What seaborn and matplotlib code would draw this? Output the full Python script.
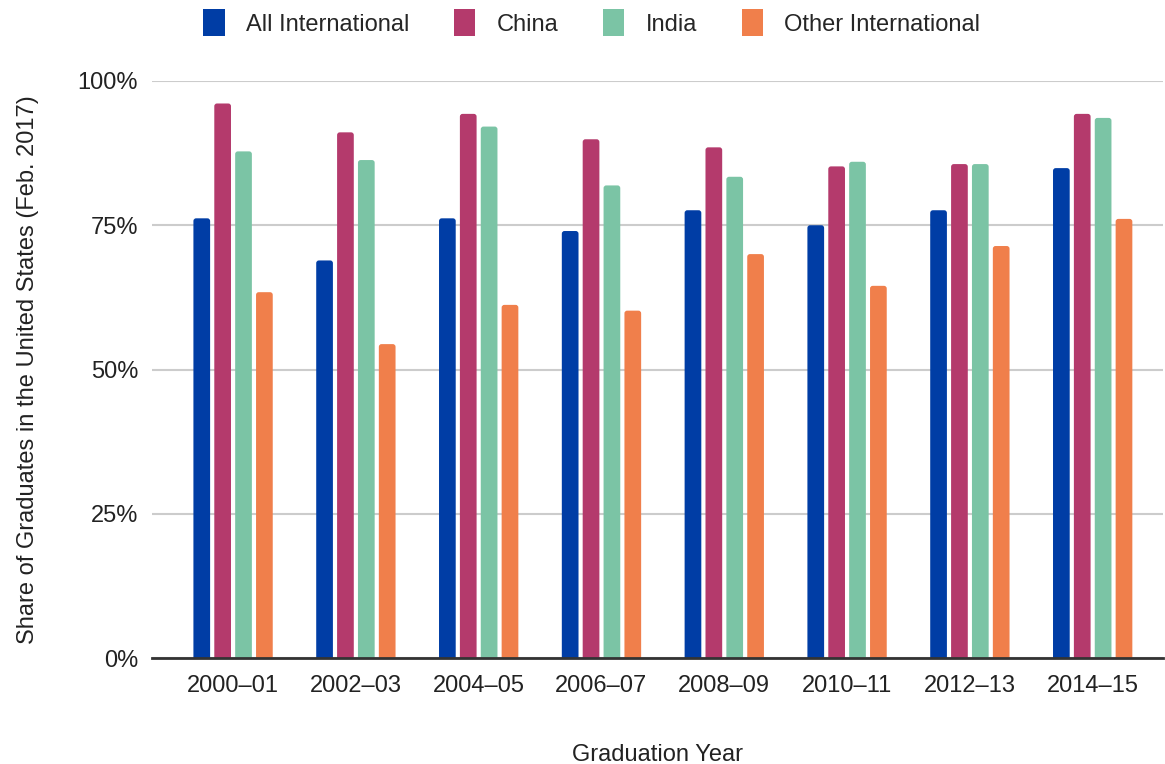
import pandas as pd
import matplotlib.pyplot as plt
import seaborn as sns
from matplotlib.patches import Patch, FancyBboxPatch
from matplotlib.ticker import PercentFormatter

years = ['2000–01', '2002–03', '2004–05', '2006–07',
         '2008–09', '2010–11', '2012–13', '2014–15']
series = ['All International', 'China', 'India', 'Other International']
all_intl = [76.2, 68.9, 76.2, 74.0, 77.6, 75.0, 77.6, 84.9]
china = [96.1, 91.1, 94.3, 89.9, 88.5, 85.2, 85.6, 94.3]
india = [87.8, 86.3, 92.1, 81.9, 83.4, 86.0, 85.6, 93.6]
other_intl = [63.4, 54.4, 61.2, 60.2, 70.0, 64.5, 71.4, 76.1]
colors = ['#003da5', '#b43a6c', '#7bc4a5', '#f07f4b']

if __name__ == '__main__':

    values = [all_intl, china, india, other_intl]
    df = pd.DataFrame({
        'year': years * len(series),
        'series': [s for s in series for _ in years],
        'share': [v for vals in values for v in vals],
    })

    sns.set_style('white')
    plt.rcParams['font.family'] = ['Liberation Sans', 'DejaVu Sans']

    fig = plt.figure(figsize=(11.65, 7.64), dpi=100)
    ax = fig.add_axes([0.1305, 0.1387, 0.8675, 0.7553])

    sns.barplot(data=df, x='year', y='share', hue='series', order=years,
                hue_order=series, palette=colors, width=0.68, gap=0.2,
                saturation=1, legend=False, ax=ax)

    ax.set_ylim(0, 100)
    ax.set_xlim(-0.66, 7.57)

    # round the bar tops a little (Google-chart look)
    for bar in list(ax.patches):
        x, w, h = bar.get_x(), bar.get_width(), bar.get_height()
        rounded = FancyBboxPatch((x, -3), w, h + 3,
                                 boxstyle='round,pad=0,rounding_size=0.022',
                                 mutation_aspect=21.3,
                                 facecolor=bar.get_facecolor(), edgecolor='none')
        bar.remove()
        ax.add_patch(rounded)

    ax.set_yticks([0, 25, 50, 75, 100])
    ax.yaxis.set_major_formatter(PercentFormatter(decimals=0))
    ax.grid(axis='y', color='#cccccc', linewidth=1.5)
    ax.set_axisbelow(True)
    sns.despine(ax=ax, left=True, top=True, right=True)
    ax.spines['bottom'].set_color('#333333')
    ax.spines['bottom'].set_linewidth(2)
    ax.spines['bottom'].set_zorder(5)
    ax.tick_params(axis='both', length=0, labelsize=17, colors='#222222')
    ax.tick_params(axis='x', pad=12)
    ax.tick_params(axis='y', pad=10)

    ax.set_xlabel('Graduation Year', fontsize=17, color='#222222', labelpad=34)
    ax.set_ylabel('Share of Graduates in the United States (Feb. 2017)',
                  fontsize=17, color='#222222', labelpad=28)

    handles = [Patch(facecolor=c, edgecolor='none') for c in colors]
    fig.legend(handles, series, loc='upper center', ncol=4, frameon=False,
               bbox_to_anchor=(0.508, 1.016), fontsize=17, handlelength=0.9,
               handleheight=1.4, handletextpad=0.9, columnspacing=1.9)

    plt.savefig('out.png', dpi=100)
